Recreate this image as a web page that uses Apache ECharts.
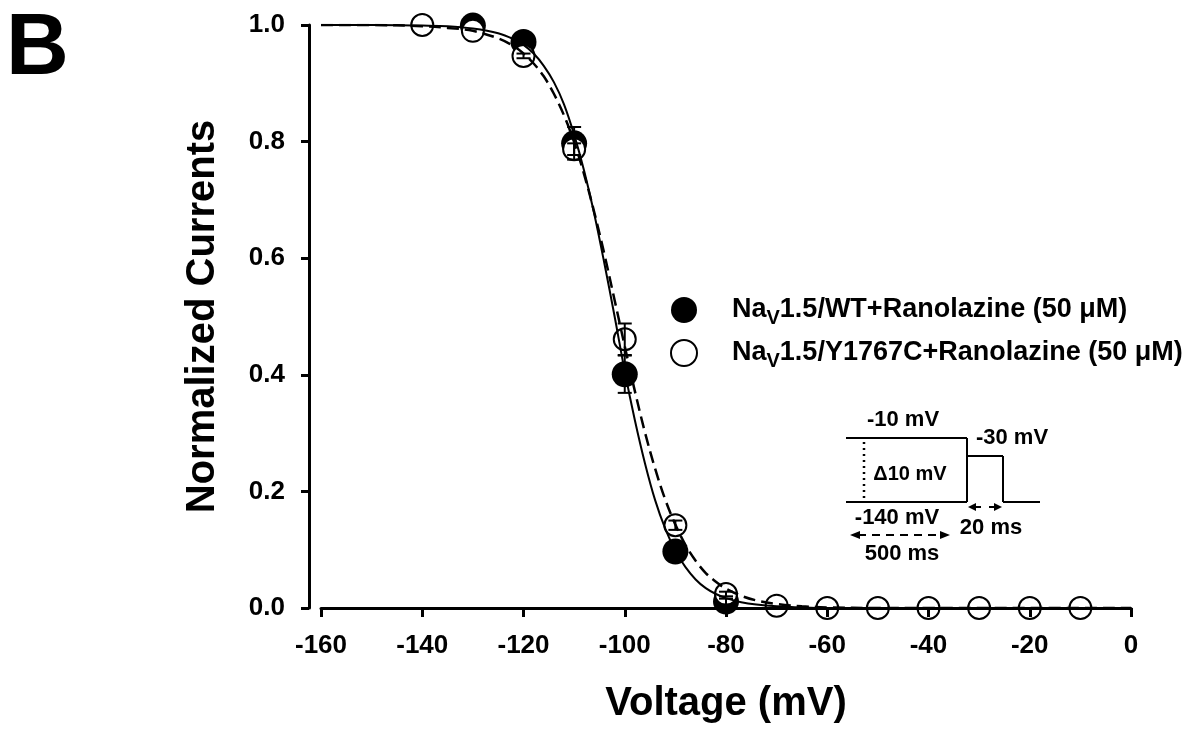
<!DOCTYPE html>
<html>
<head>
<meta charset="utf-8">
<title>Steady-state inactivation</title>
<script src="https://cdn.jsdelivr.net/npm/echarts@6/dist/echarts.min.js"></script>
<style>
  html, body { margin: 0; padding: 0; background: #fff; }
  #chart { width: 1199px; height: 732px; }
</style>
</head>
<body>
<div id="chart"></div>
<script>
// Measured points: normalized current vs. conditioning voltage (mean, SEM)
const wtVoltage = [-130, -120, -110, -100, -90, -80];
const wtCurrent = [0.999, 0.971, 0.797, 0.401, 0.097, 0.011];
const wtError   = [0.000, 0.005, 0.028, 0.032, 0.010, 0.005];

const mutVoltage = [-140, -130, -120, -110, -100, -90, -80, -70, -60, -50, -40, -30, -20, -10];
const mutCurrent = [1.000, 0.990, 0.947, 0.787, 0.461, 0.142, 0.024, 0.004, 0.000, 0.000, 0.000, 0.000, 0.000, 0.000];
const mutError   = [0.000, 0.000, 0.004, 0.010, 0.027, 0.008, 0.004, 0.000, 0.000, 0.000, 0.000, 0.000, 0.000, 0.000];

// Boltzmann fit curves, sampled along the voltage range
const fitVoltage = [-160, -150, -140, -135, -130, -125, -122, -120, -118, -116, -114, -112, -110, -108, -106, -104, -102, -100, -98, -96, -94, -92, -90, -88, -86, -84, -82, -80, -77, -74, -70, -65, -60, -50, -40, -20, 0];
const wtFit  = [1.000, 1.000, 0.999, 0.998, 0.994, 0.986, 0.976, 0.966, 0.951, 0.930, 0.902, 0.864, 0.812, 0.749, 0.675, 0.590, 0.500, 0.406, 0.322, 0.248, 0.185, 0.136, 0.098, 0.070, 0.049, 0.034, 0.024, 0.017, 0.010, 0.006, 0.003, 0.001, 0.000, 0.000, 0.000, 0.000, 0.000];
const mutFit = [1.000, 1.000, 0.998, 0.995, 0.990, 0.977, 0.964, 0.951, 0.934, 0.912, 0.882, 0.845, 0.799, 0.743, 0.678, 0.606, 0.528, 0.449, 0.372, 0.301, 0.239, 0.186, 0.143, 0.108, 0.081, 0.060, 0.045, 0.033, 0.021, 0.013, 0.007, 0.003, 0.001, 0.000, 0.000, 0.000, 0.000];

const seriesNames = ['NaV1.5/WT+Ranolazine (50 μM)', 'NaV1.5/Y1767C+Ranolazine (50 μM)'];
const xTicks = { min: -160, max: 0, step: 20 };
const yTicks = { min: 0, max: 1, step: 0.2 };

const FONT = 'Liberation Sans, Arial, Helvetica, sans-serif';
const PLOT = { left: 321, right: 68, top: 25, bottom: 124 };
const Y_AXIS_OFFSET = 12;   // left axis stands slightly apart from the plot

const zip = (xs, ys) => xs.map((x, i) => [x, ys[i]]);
const zip3 = (xs, ys, es) => xs.map((x, i) => [x, ys[i], es[i]]);

function errorBars(params, api) {
  const x = api.value(0), y = api.value(1), e = api.value(2);
  if (!(e > 0)) return null;
  const hi = api.coord([x, y + e]);
  const lo = api.coord([x, y - e]);
  const cap = 7;
  const st = { stroke: '#000', lineWidth: 2 };
  return {
    type: 'group',
    children: [
      { type: 'line', shape: { x1: hi[0], y1: hi[1], x2: lo[0], y2: lo[1] }, style: st },
      { type: 'line', shape: { x1: hi[0] - cap, y1: hi[1], x2: hi[0] + cap, y2: hi[1] }, style: st },
      { type: 'line', shape: { x1: lo[0] - cap, y1: lo[1], x2: lo[0] + cap, y2: lo[1] }, style: st }
    ]
  };
}

// Pulse protocol sketch
const ink = { stroke: '#000', lineWidth: 2, fill: null };
function seg(x1, y1, x2, y2, extra) {
  return { type: 'line', shape: { x1, y1, x2, y2 }, style: Object.assign({}, ink, extra || {}), silent: true, z: 20 };
}
function head(points) {
  return { type: 'polygon', shape: { points }, style: { fill: '#000' }, silent: true, z: 20 };
}
function label(text, x, y, size) {
  return {
    type: 'text', x, y, silent: true, z: 20,
    style: { text, font: 'bold ' + size + 'px ' + FONT, fill: '#000', align: 'center', verticalAlign: 'middle' }
  };
}

const protocol = [
  seg(846, 438, 967, 438),
  seg(846, 502, 967, 502),
  seg(967, 438, 967, 502),
  seg(967, 456, 1003, 456),
  seg(1003, 456, 1003, 502),
  seg(1003, 502, 1040, 502),
  seg(864, 442, 864, 500, { lineDash: [2, 4], lineWidth: 2.5 }),
  // 500 ms span
  seg(858, 535, 942, 535, { lineDash: [8, 6] }),
  head([[850, 535], [860, 531], [860, 539]]),
  head([[950, 535], [940, 531], [940, 539]]),
  // 20 ms span
  seg(974, 507, 981, 507),
  head([[968, 507], [976, 503], [976, 511]]),
  seg(989, 507, 996, 507),
  head([[1002, 507], [994, 503], [994, 511]]),
  label('-10 mV', 903, 420, 22),
  label('-30 mV', 1012, 438, 22),
  label('Δ10 mV', 910, 474, 20),
  label('-140 mV', 897, 518, 22),
  label('20 ms', 991, 528, 22),
  label('500 ms', 902, 554, 22)
];

const panelLetter = {
  type: 'text', x: 6, y: 50, silent: true, z: 20,
  style: { text: 'B', font: 'bold 87px ' + FONT, fill: '#000', align: 'left', verticalAlign: 'middle' }
};

const axisText = { fontWeight: 'bold', color: '#000', fontFamily: FONT };

const chart = echarts.init(document.getElementById('chart'), null, { renderer: 'canvas' });

chart.setOption({
  animation: false,
  backgroundColor: '#fff',
  textStyle: { fontFamily: FONT },
  grid: [
    // data area
    Object.assign({ containLabel: false }, PLOT),
    // frame for the left axis, set a little apart from the data area
    { containLabel: false, left: PLOT.left - Y_AXIS_OFFSET, right: PLOT.right, top: PLOT.top, bottom: PLOT.bottom }
  ],
  xAxis: [
    {
      type: 'value', gridIndex: 0,
      min: xTicks.min, max: xTicks.max, interval: xTicks.step,
      z: 10,
      name: 'Voltage (mV)',
      nameLocation: 'middle',
      nameGap: 76,
      nameTextStyle: Object.assign({ fontSize: 40 }, axisText),
      axisLine: { show: true, onZero: false, lineStyle: { color: '#000', width: 3 } },
      axisTick: { show: true, length: 9, lineStyle: { color: '#000', width: 3 } },
      axisLabel: Object.assign({ fontSize: 26, margin: 25 }, axisText),
      splitLine: { show: false }
    },
    {
      type: 'value', gridIndex: 1, show: false,
      min: xTicks.min, max: xTicks.max, interval: xTicks.step
    }
  ],
  yAxis: [
    {
      type: 'value', gridIndex: 0, show: false,
      min: yTicks.min, max: yTicks.max, interval: yTicks.step
    },
    {
      type: 'value', gridIndex: 1,
      position: 'left',
      min: yTicks.min, max: yTicks.max, interval: yTicks.step,
      z: 10,
      name: 'Normalized Currents',
      nameLocation: 'middle',
      nameRotate: 90,
      nameGap: 86,
      nameTextStyle: Object.assign({ fontSize: 40 }, axisText),
      axisLine: { show: true, onZero: false, lineStyle: { color: '#000', width: 3 } },
      axisTick: { show: true, inside: false, length: 8, lineStyle: { color: '#000', width: 3 } },
      axisLabel: Object.assign({ fontSize: 26, margin: 24, formatter: v => v.toFixed(1) }, axisText),
      splitLine: { show: false }
    }
  ],
  legend: {
    data: seriesNames,
    orient: 'vertical',
    left: 665,
    top: 287,
    itemWidth: 26,
    itemHeight: 26,
    itemGap: 7,
    selectedMode: false,
    formatter: name => '{p|Na}{s|V}{n|' + name.slice(3) + '}',
    textStyle: {
      color: '#000',
      rich: {
        p: { fontSize: 27, fontWeight: 'bold', color: '#000', fontFamily: FONT, lineHeight: 36, padding: [0, 0, 0, 30] },
        s: { fontSize: 20, fontWeight: 'bold', color: '#000', fontFamily: FONT, lineHeight: 20, padding: [16, 0, 0, 0] },
        n: { fontSize: 27, fontWeight: 'bold', color: '#000', fontFamily: FONT, lineHeight: 36 }
      }
    }
  },
  graphic: [panelLetter].concat(protocol),
  series: [
    {
      name: seriesNames[0],
      type: 'scatter',
      xAxisIndex: 0, yAxisIndex: 0,
      data: zip(wtVoltage, wtCurrent),
      symbol: 'circle',
      symbolSize: 26,
      itemStyle: { color: '#000', borderColor: '#000', borderWidth: 0, opacity: 1 },
      z: 2
    },
    {
      name: seriesNames[1],
      type: 'scatter',
      xAxisIndex: 0, yAxisIndex: 0,
      data: zip(mutVoltage, mutCurrent),
      symbol: 'circle',
      symbolSize: 22,
      itemStyle: { color: '#fff', borderColor: '#000', borderWidth: 2, opacity: 1 },
      z: 3
    },
    {
      name: 'WT fit',
      type: 'line',
      xAxisIndex: 0, yAxisIndex: 0,
      data: zip(fitVoltage, wtFit),
      smooth: 0.35,
      showSymbol: false,
      lineStyle: { color: '#000', width: 2 },
      z: 4
    },
    {
      name: 'Y1767C fit',
      type: 'line',
      xAxisIndex: 0, yAxisIndex: 0,
      data: zip(fitVoltage, mutFit),
      smooth: 0.35,
      showSymbol: false,
      lineStyle: { color: '#000', width: 2.5, type: [12, 6] },
      z: 4
    },
    {
      name: 'WT SEM',
      type: 'custom',
      xAxisIndex: 0, yAxisIndex: 0,
      renderItem: errorBars,
      data: zip3(wtVoltage, wtCurrent, wtError),
      z: 5
    },
    {
      name: 'Y1767C SEM',
      type: 'custom',
      xAxisIndex: 0, yAxisIndex: 0,
      renderItem: errorBars,
      data: zip3(mutVoltage, mutCurrent, mutError),
      z: 5
    }
  ]
});
</script>
</body>
</html>
